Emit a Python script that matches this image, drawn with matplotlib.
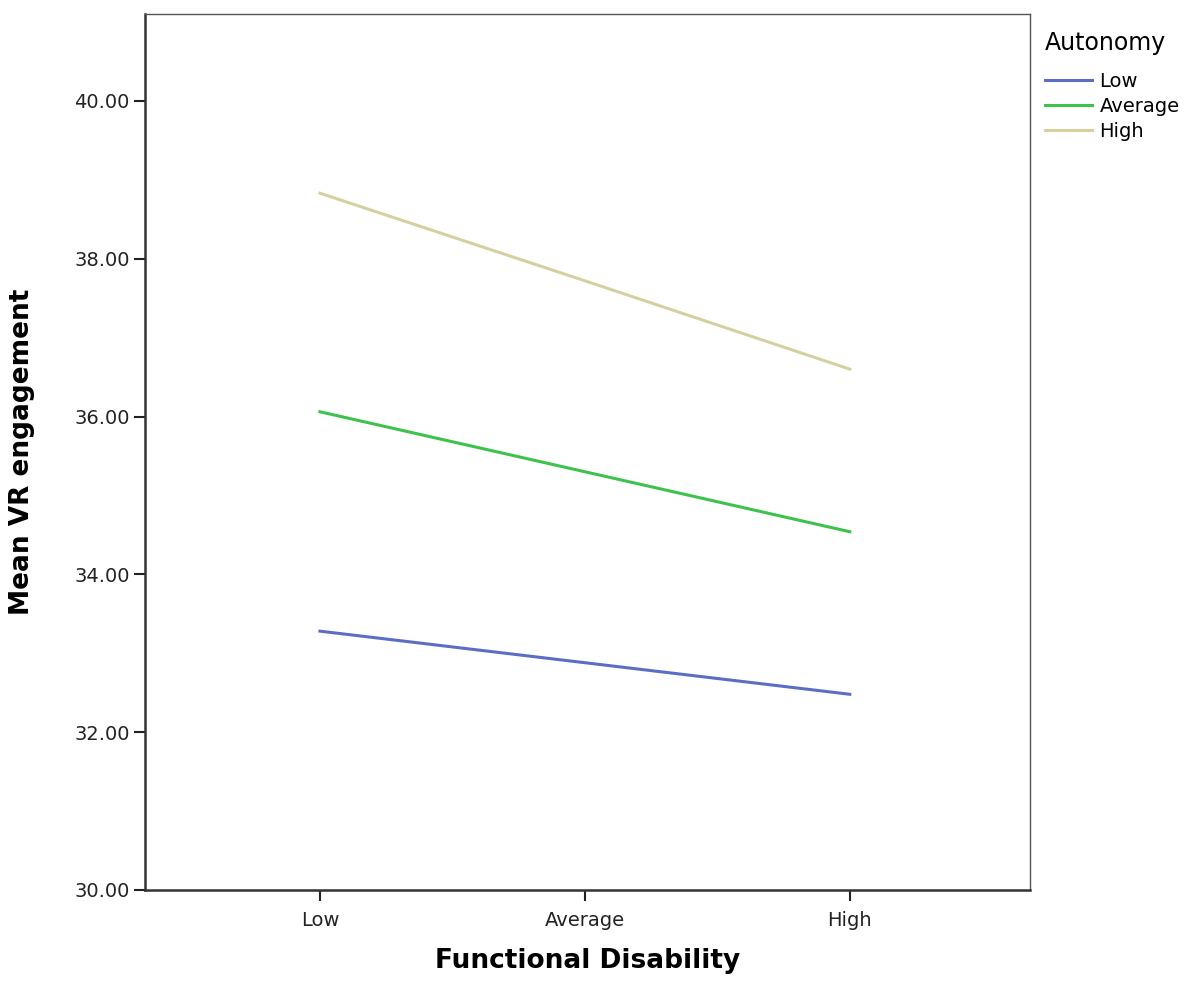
import matplotlib.pyplot as plt
import numpy as np

# data
disability = ['Low', 'Average', 'High']
autonomy = ['Low', 'Average', 'High']
low_auto = [33.28, 32.88, 32.48]
avg_auto = [36.06, 35.30, 34.54]
high_auto = [38.83, 37.72, 36.60]
colors = ['#5b6ec4', '#3dc24c', '#d6d0a0']

fig = plt.figure(figsize=(11.99, 9.82), dpi=100)
ax = fig.add_axes([0.121, 0.0937, 0.738, 0.892])

x = np.arange(len(disability))
for vals, lab, c in zip([low_auto, avg_auto, high_auto], autonomy, colors):
    ax.plot(x, vals, color=c, lw=2.2, label=lab)

ax.set_xlim(-0.66, 2.68)
ax.set_ylim(30, 41.1)
ax.set_xticks(x)
ax.set_xticklabels(disability)
ax.set_yticks(np.arange(30, 41, 2))
ax.set_yticklabels(['%.2f' % v for v in np.arange(30, 41, 2)])
ax.tick_params(labelsize=14, length=8, width=1.5, colors='#222222')
ax.tick_params(axis='x', pad=7)
ax.tick_params(axis='y', pad=3)
for s in ['left', 'bottom']:
    ax.spines[s].set_linewidth(1.8)
    ax.spines[s].set_color('#333333')
for s in ['top', 'right']:
    ax.spines[s].set_linewidth(1.0)
    ax.spines[s].set_color('#555555')

ax.set_xlabel('Functional Disability', fontsize=19, fontweight='bold', labelpad=13)
ax.set_ylabel('Mean VR engagement', fontsize=19, fontweight='bold', labelpad=28)

leg = fig.legend(loc='upper left', bbox_to_anchor=(0.865, 0.976), frameon=False,
                 title='Autonomy', fontsize=14, title_fontsize=17,
                 handlelength=2.4, handletextpad=0.4, labelspacing=0.3,
                 borderaxespad=0)
leg._legend_box.align = 'left'
leg._legend_box.sep = 12

fig.savefig('out.png', dpi=100)
